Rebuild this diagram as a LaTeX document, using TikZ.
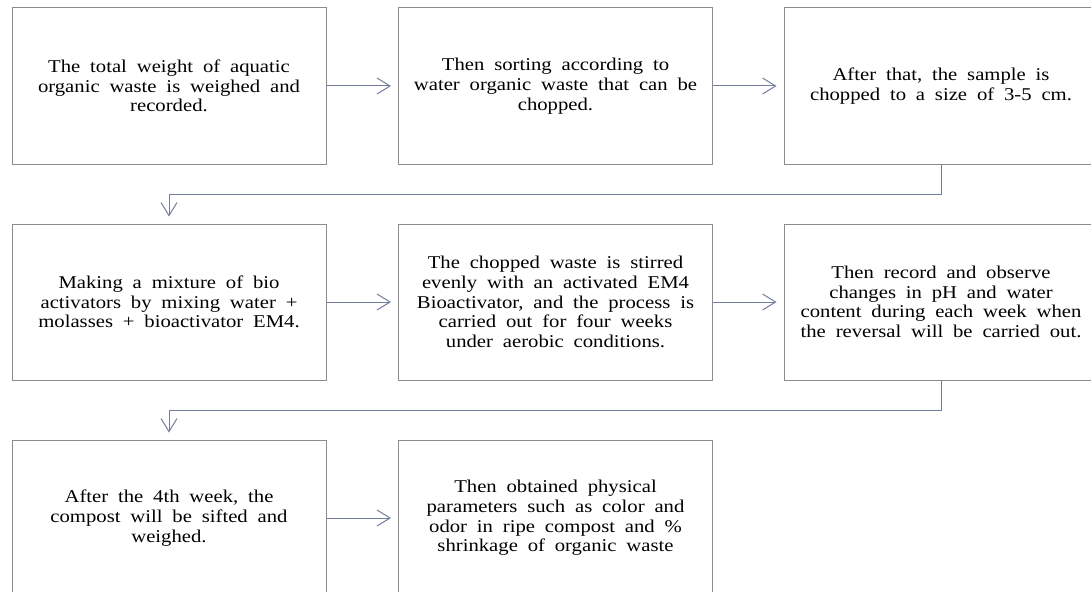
\documentclass[tikz,border=0pt]{standalone}
\usepackage{fontspec}
\setmainfont[FakeStretch=1.15,WordSpace=1.9]{Liberation Serif}
\usetikzlibrary{arrows.meta}
\definecolor{boxgray}{HTML}{8C8C8C}
\definecolor{linkblue}{HTML}{6F7F9B}

\begin{document}
\begin{tikzpicture}[x=1pt,y=1pt,
    stepbox/.style={draw=boxgray,line width=1pt,minimum width=314pt,minimum height=156pt,inner sep=0pt,align=center,font=\fontsize{18}{19.7}\selectfont},
    link/.style={draw=linkblue,line width=1pt,-{Straight Barb[length=13pt,width=16pt]},shorten >=7pt}]
    \clip (0,0) rectangle (1091,-591);
    \node[stepbox] (weigh) at (169,-86) {The total weight of aquatic\\organic waste is weighed and\\recorded.};
    \node[stepbox] (sort) at (555.5,-86) {Then sorting according to\\water organic waste that can be\\chopped.};
    \node[stepbox] (chop) at (941,-86) {After that, the sample is\\chopped to a size of 3-5 cm.};
    \node[stepbox] (mix) at (169,-302) {Making a mixture of bio\\activators by mixing water +\\molasses + bioactivator EM4.};
    \node[stepbox] (stir) at (555.5,-302) {The chopped waste is stirred\\evenly with an activated EM4\\Bioactivator, and the process is\\carried out for four weeks\\under aerobic conditions.};
    \node[stepbox] (observe) at (941,-302) {Then record and observe\\changes in pH and water\\content during each week when\\the reversal will be carried out.};
    \node[stepbox] (sift) at (169,-518) {After the 4th week, the\\compost will be sifted and\\weighed.};
    \node[stepbox] (params) at (555.5,-518) {Then obtained physical\\parameters such as color and\\odor in ripe compost and \%\\shrinkage of organic waste};

    \draw[link] (weigh) -- (sort);
    \draw[link] (sort) -- (chop);
    \draw[link] (chop.south) -- ++(0,-30) -| (mix.north);
    \draw[link] (mix) -- (stir);
    \draw[link] (stir) -- (observe);
    \draw[link] (observe.south) -- ++(0,-30) -| (sift.north);
    \draw[link] (sift) -- (params);
\end{tikzpicture}
\end{document}
